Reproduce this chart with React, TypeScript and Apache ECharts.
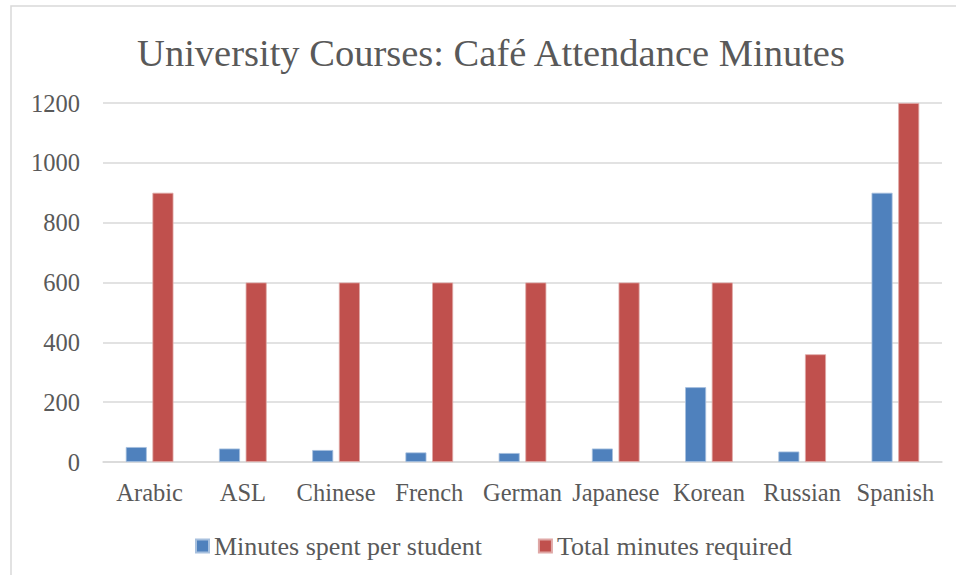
import React, { useEffect, useRef } from "react";
import * as echarts from "echarts";

const categories = ["Arabic", "ASL", "Chinese", "French", "German", "Japanese", "Korean", "Russian", "Spanish"];
const perStudent = [50, 45, 40, 32, 30, 45, 250, 35, 900];
const totalRequired = [900, 600, 600, 600, 600, 600, 600, 360, 1200];
const seriesNames = ["Minutes spent per student", "Total minutes required"];
const titleText = "University Courses: Café Attendance Minutes";

const FONT = "'Liberation Serif', 'Times New Roman', serif";
const TEXT = "#595959";

export default function App() {
  const ref = useRef<HTMLDivElement>(null);
  useEffect(() => {
    if (!ref.current) return;
    const chart = echarts.init(ref.current, undefined, { renderer: "svg" });
    chart.setOption({
      animation: false,
      backgroundColor: "#ffffff",
      graphic: [
        {
          type: "rect",
          shape: { x: 11, y: 6, width: 1000, height: 700 },
          style: { fill: "none", stroke: "#D9D9D9", lineWidth: 1.5 },
          silent: true,
        },
        {
          type: "text",
          x: 491,
          y: 53,
          style: {
            text: titleText,
            fill: TEXT,
            font: `38.5px ${FONT}`,
            textAlign: "center",
            textVerticalAlign: "middle",
          },
        },
      ],
      legend: {
        left: 190,
        top: 528,
        itemWidth: 13,
        itemHeight: 13,
        itemGap: 56,
        icon: "rect",
        textStyle: { color: TEXT, fontFamily: FONT, fontSize: 26 },
        data: seriesNames,
      },
      grid: { left: 103, right: 14, top: 103, bottom: 113, containLabel: false },
      xAxis: {
        type: "category",
        data: categories,
        axisLine: { lineStyle: { color: "#D9D9D9", width: 1.5 } },
        axisTick: { show: false },
        axisLabel: { color: TEXT, fontFamily: FONT, fontSize: 24.5, margin: 18, interval: 0 },
      },
      yAxis: {
        type: "value",
        min: 0,
        max: 1200,
        interval: 200,
        axisLine: { show: false },
        axisTick: { show: false },
        splitLine: { lineStyle: { color: "#D9D9D9", width: 1.5 } },
        axisLabel: {
          color: TEXT,
          fontFamily: FONT,
          fontSize: 24.5,
          margin: 23,
          formatter: (v: number) => String(v),
        },
      },
      series: [
        {
          name: seriesNames[0],
          type: "bar",
          data: perStudent,
          barWidth: 21,
          barGap: "27%",
          itemStyle: { color: "#4F81BD", borderColor: "#A7C0DE", borderWidth: 0.8 },
        },
        {
          name: seriesNames[1],
          type: "bar",
          data: totalRequired,
          barWidth: 21,
          barGap: "27%",
          itemStyle: { color: "#C0504D", borderColor: "#DFA8A6", borderWidth: 0.8 },
        },
      ],
    });
    return () => chart.dispose();
  }, []);
  return (
    <div
      ref={ref}
      style={{ position: "fixed", left: 0, top: 0, width: 956, height: 575, background: "#fff" }}
    />
  );
}
